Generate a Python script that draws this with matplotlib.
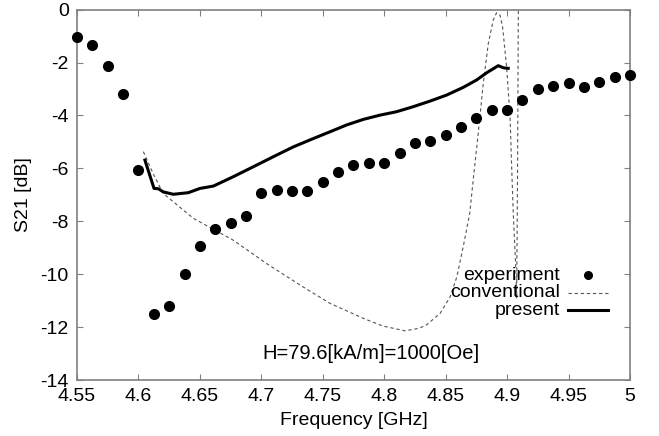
import matplotlib
matplotlib.use("Agg")
import matplotlib.pyplot as plt
import numpy as np

plt.rcParams['font.family'] = ['Liberation Sans', 'DejaVu Sans']
plt.rcParams['axes.unicode_minus'] = False

# measured S21
exp_f = np.arange(37) * 0.0125 + 4.55
exp_s21 = [-1.05, -1.34, -2.12, -3.20, -6.07, -11.52, -11.22, -9.98, -8.94, -8.31,
           -8.08, -7.80, -6.92, -6.82, -6.87, -6.85, -6.51, -6.15, -5.89, -5.81,
           -5.79, -5.43, -5.03, -4.96, -4.74, -4.43, -4.09, -3.81, -3.79, -3.42,
           -3.00, -2.87, -2.77, -2.94, -2.74, -2.54, -2.48]

# conventional model
conv_f = [4.604, 4.612, 4.6202, 4.6447, 4.677, 4.704, 4.7315, 4.7558, 4.783, 4.799,
          4.8168, 4.828, 4.8344, 4.8455, 4.8537, 4.8591, 4.8643, 4.8696, 4.8724, 4.8765,
          4.8806, 4.8847, 4.8887, 4.8914, 4.8942, 4.8963, 4.8996, 4.9024, 4.9037, 4.905,
          4.9069, 4.9078, 4.9085, 4.9092]
conv_s21 = [-5.37, -6.20, -6.95, -7.89, -8.71, -9.59, -10.41, -11.10, -11.67, -11.96,
            -12.14, -12.05, -11.92, -11.48, -10.85, -10.10, -8.96, -7.70, -6.44, -4.68,
            -2.79, -1.28, -0.40, -0.12, -0.21, -0.65, -2.16, -4.05, -5.94, -7.70,
            -9.59, -10.9, -6.0, 0.5]

# present model
pres_f = [4.6053, 4.6127, 4.6162, 4.6202, 4.6284, 4.6406, 4.65, 4.661, 4.677, 4.6935,
          4.7098, 4.726, 4.7425, 4.7558, 4.7694, 4.783, 4.7965, 4.81, 4.8236, 4.8372,
          4.8508, 4.8643, 4.8752, 4.8833, 4.8928, 4.897, 4.9009]
pres_s21 = [-5.69, -6.76, -6.77, -6.89, -6.98, -6.92, -6.76, -6.67, -6.32, -5.94,
            -5.56, -5.19, -4.87, -4.62, -4.36, -4.15, -3.99, -3.86, -3.67, -3.46,
            -3.23, -2.94, -2.66, -2.39, -2.12, -2.20, -2.22]

xticks = [4.55, 4.6, 4.65, 4.7, 4.75, 4.8, 4.85, 4.9, 4.95, 5.0]
xticklabels = ["4.55", "4.6", "4.65", "4.7", "4.75", "4.8", "4.85", "4.9", "4.95", "5"]
yticks = [0, -2, -4, -6, -8, -10, -12, -14]

fig = plt.figure(figsize=(6.59, 4.36), dpi=100)
ax = fig.add_axes([0.1168, 0.1284, 0.956 - 0.1168, 0.978 - 0.1284])

exp_style = dict(marker='o', linestyle='none', color='black', markersize=7)
conv_style = dict(linestyle='--', color='#555555', linewidth=0.8, dashes=(3, 2.5))
pres_style = dict(linestyle='-', color='black', linewidth=2.2)

ax.plot(exp_f, exp_s21, clip_on=False, zorder=3, **exp_style)
ax.plot(conv_f, conv_s21, **conv_style)
ax.plot(pres_f, pres_s21, **pres_style)

ax.set_xlim(4.55, 5.0)
ax.set_ylim(-14, 0)
ax.set_xticks(xticks)
ax.set_xticklabels(xticklabels)
ax.set_yticks(yticks)
ax.tick_params(direction='in', top=True, right=True, length=4, color='#808080',
               labelsize=14, pad=6)
for s in ax.spines.values():
    s.set_color('#808080')
    s.set_linewidth(1.2)

ax.set_xlabel("Frequency [GHz]", fontsize=14, labelpad=5)
ax.set_ylabel("S21 [dB]", fontsize=14, labelpad=6)

ax.text(4.7005, -13.0, "H=79.6[kA/m]=1000[Oe]", fontsize=14.5, va='center', ha='left')

# key: labels right aligned, sample to the right
key_labels = ["experiment", "conventional", "present"]
key_styles = [exp_style, conv_style, pres_style]
key_y = [0.283, 0.236, 0.188]
for lab, st, yy in zip(key_labels, key_styles, key_y):
    ax.text(0.873, yy, lab, transform=ax.transAxes, fontsize=14, ha='right', va='center')
    if st is exp_style:
        ax.plot([0.924], [yy], transform=ax.transAxes, clip_on=False,
                **dict(st, markersize=5.5))
    else:
        ax.plot([0.888, 0.960], [yy, yy], transform=ax.transAxes, clip_on=False, **st)

fig.savefig("out.png", dpi=100)
